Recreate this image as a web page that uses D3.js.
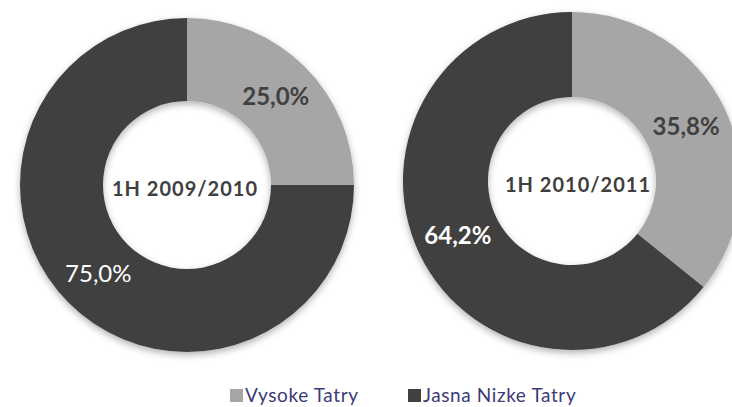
<!DOCTYPE html>
<html>
<head>
<meta charset="utf-8">
<script src="https://cdn.jsdelivr.net/npm/d3@7/dist/d3.min.js"></script>
<style>
  html, body { margin: 0; padding: 0; background: #ffffff; }
  svg { display: block; }
</style>
</head>
<body>
<svg id="chart" width="732" height="407"></svg>
<script>
const categories = ["Vysoke Tatry", "Jasna Nizke Tatry"];
const periods = ["1H 2009/2010", "1H 2010/2011"];
const vysokeTatry = [25.0, 35.8];
const jasnaNizkeTatry = [75.0, 64.2];
const colors = ["#a6a6a6", "#404040"];
const labelColors = ["#404040", "#ffffff"];
const labelWeights = [["bold", "normal"], ["bold", "bold"]];

const donuts = [
  { cx: 187, cy: 185, r: 167, r0: 84, tx: -2 },
  { cx: 572, cy: 181, r: 169, r0: 84, tx: 6 }
];

const svg = d3.select("#chart");
const defs = svg.append("defs");
const f = defs.append("filter").attr("id", "shadow")
  .attr("x", "-10%").attr("y", "-10%").attr("width", "120%").attr("height", "125%");
f.append("feDropShadow").attr("dx", 0).attr("dy", 3).attr("stdDeviation", 3.5)
  .attr("flood-color", "#000").attr("flood-opacity", 0.3);

const inner = defs.append("filter").attr("id", "innershadow")
  .attr("x", "-20%").attr("y", "-20%").attr("width", "140%").attr("height", "140%");
inner.append("feGaussianBlur").attr("in", "SourceAlpha").attr("stdDeviation", 3).attr("result", "b");
inner.append("feOffset").attr("dy", 3).attr("result", "o");
inner.append("feComposite").attr("in", "SourceAlpha").attr("in2", "o").attr("operator", "out").attr("result", "s");
inner.append("feFlood").attr("flood-color", "#000").attr("flood-opacity", 0.25).attr("result", "c");
inner.append("feComposite").attr("in", "c").attr("in2", "s").attr("operator", "in");

const pie = d3.pie().sort(null).value(d => d.value);

periods.forEach((p, i) => {
  const dn = donuts[i];
  const data = [
    { cat: categories[0], value: vysokeTatry[i], idx: 0 },
    { cat: categories[1], value: jasnaNizkeTatry[i], idx: 1 }
  ];
  const arc = d3.arc().innerRadius(dn.r0).outerRadius(dn.r);
  const g = svg.append("g").attr("transform", `translate(${dn.cx},${dn.cy})`);
  const slices = g.append("g").attr("filter", "url(#shadow)");
  slices.selectAll("path").data(pie(data)).join("path")
    .attr("d", arc)
    .attr("fill", d => colors[d.data.idx]);
  const hole = g.append("g").attr("filter", "url(#innershadow)");
  hole.append("circle").attr("r", dn.r0 + 0.5).attr("fill", "#fff").attr("opacity", 0.001);

  g.selectAll("text.val").data(pie(data)).join("text")
    .attr("class", "val")
    .attr("transform", d => `translate(${arc.centroid(d)})`)
    .attr("text-anchor", "middle")
    .attr("dy", "0.35em")
    .attr("font-family", "Lato, 'Open Sans', sans-serif")
    .attr("font-size", 24)
    .attr("font-weight", d => labelWeights[i][d.data.idx])
    .attr("fill", d => labelColors[d.data.idx])
    .text(d => d3.format(".1f")(d.data.value).replace(".", ",") + "%");

  g.append("text")
    .attr("text-anchor", "middle")
    .attr("x", dn.tx)
    .attr("y", 4)
    .attr("dy", "0.35em")
    .attr("font-family", "Lato, 'Open Sans', sans-serif")
    .attr("font-size", 20)
    .attr("font-weight", "bold")
    .attr("letter-spacing", 1)
    .attr("fill", "#404040")
    .text(p);
});

// legend
const legend = svg.append("g");
const legendX = [230, 408];
categories.forEach((c, i) => {
  const lg = legend.append("g").attr("transform", `translate(${legendX[i]},389)`);
  lg.append("rect").attr("width", 13).attr("height", 13).attr("fill", colors[i]);
  lg.append("text").attr("x", 15).attr("y", 13)
    .attr("font-family", "Lato, 'Open Sans', sans-serif")
    .attr("font-size", 19)
    .attr("letter-spacing", 0.6)
    .attr("fill", "#3d3a78")
    .text(c);
});
</script>
</body>
</html>
